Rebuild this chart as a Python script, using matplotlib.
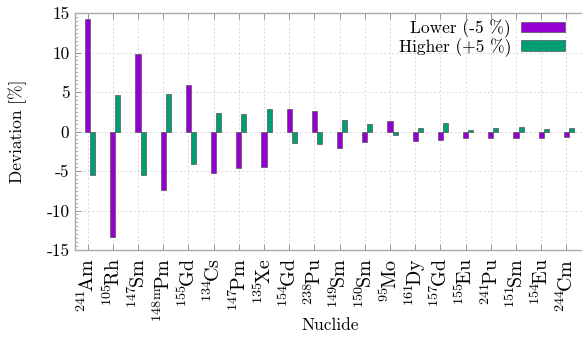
import matplotlib
matplotlib.use("Agg")
import matplotlib.pyplot as plt
import numpy as np
from matplotlib.ticker import MultipleLocator
from matplotlib.patches import Patch

plt.rcParams["mathtext.fontset"] = "cm"
plt.rcParams["font.family"] = ["cmr10", "DejaVu Serif"]
plt.rcParams["axes.unicode_minus"] = False

nuclides = ["241Am", "105Rh", "147Sm", "148mPm", "155Gd", "134Cs", "147Pm", "135Xe",
            "154Gd", "238Pu", "149Sm", "150Sm", "95Mo", "161Dy", "157Gd", "155Eu",
            "241Pu", "151Sm", "154Eu", "244Cm"]
lower = [14.3, -13.4, 9.75, -7.4, 5.85, -5.25, -4.65, -4.5, 2.88, 2.54,
         -2.1, -1.27, 1.27, -1.23, -1.1, -0.85, -0.76, -0.76, -0.76, -0.72]
higher = [-5.5, 4.6, -5.5, 4.8, -4.15, 2.4, 2.25, 2.8, -1.44, -1.6,
          1.44, 0.97, -0.38, 0.5, 1.1, 0.25, 0.42, 0.59, 0.3, 0.42]
y_ticks = [-15, -10, -5, 0, 5, 10, 15]


def nuclide_label(name):
    i = 0
    while i < len(name) and name[i].isdigit():
        i += 1
    mass, rest = name[:i], name[i:]
    if rest.startswith("m"):
        mass += "m"
        rest = rest[1:]
    return r"$^{\mathrm{%s}}\!\mathrm{%s}$" % (mass, rest)


purple = "#9400D3"
green = "#009E73"
edge = "#555555"
fs = 12.5

W, H = 582, 338
fig = plt.figure(figsize=(W / 100, H / 100), dpi=100)
x_left, x_right = -0.5, len(nuclides) - 0.5 + 0.1
unit_px = 25.2
ax_w = (x_right - x_left) * unit_px
ax = fig.add_axes([75 / W, 1 - 250 / H, ax_w / W, (250 - 13) / H])

x = np.arange(len(nuclides))
w = 0.2
ax.bar(x, lower, width=w, color=purple, edgecolor=edge, linewidth=0.5, zorder=3)
ax.bar(x + w, higher, width=w, color=green, edgecolor=edge, linewidth=0.5, zorder=3)

ax.set_xlim(x_left, x_right)
ax.set_ylim(-15, 15)

ax.set_xticks(x)
ax.set_xticklabels([nuclide_label(n) for n in nuclides], rotation=90, fontsize=14.5)
ax.set_yticks(y_ticks)
ax.set_yticklabels([str(t) for t in y_ticks], fontsize=fs)
ax.yaxis.set_minor_locator(MultipleLocator(0.5))

ax.tick_params(axis="both", which="major", direction="in", length=4, width=0.6,
               color="#888888", top=True, right=False)
ax.tick_params(axis="y", which="minor", direction="in", length=2, width=0.4,
               color="#888888", right=False)
ax.tick_params(axis="x", which="major", pad=6)
ax.tick_params(axis="y", which="major", pad=4)

for s in ["left", "bottom", "top"]:
    ax.spines[s].set_color("#aaaaaa")
    ax.spines[s].set_linewidth(1.0)
ax.spines["right"].set_visible(False)

ax.grid(True, which="major", color="#cccccc", linestyle=(0, (3, 3)), linewidth=0.5, zorder=0)
ax.set_axisbelow(True)

ax.set_ylabel("Deviation [%]", fontsize=fs, labelpad=14)
fig.text(330 / W, 1 - 325 / H, "Nuclide", fontsize=fs, ha="center", va="center")

handles = [Patch(facecolor=purple, edgecolor=edge, linewidth=0.5, label="Lower (-5 %)"),
           Patch(facecolor=green, edgecolor=edge, linewidth=0.5, label="Higher (+5 %)")]
fig.legend(handles=handles, loc="upper right", bbox_to_anchor=(577 / W, 1 - 7 / H),
           frameon=False, markerfirst=False, fontsize=fs, handlelength=2.5,
           handleheight=0.55, labelspacing=0.0, handletextpad=0.6, borderpad=0.2)

fig.savefig("out.png", dpi=100)
